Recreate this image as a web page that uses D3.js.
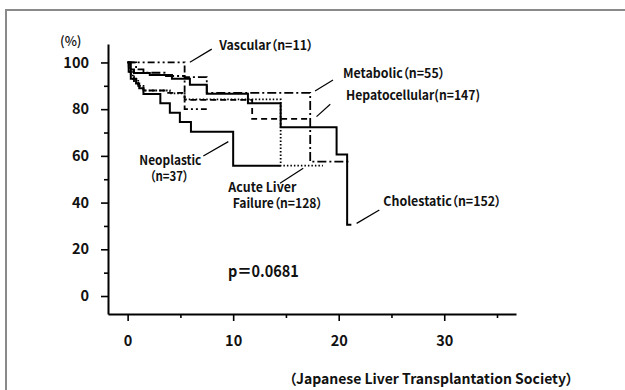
<!DOCTYPE html>
<html>
<head>
<meta charset="utf-8">
<script src="https://cdn.jsdelivr.net/npm/d3@7"></script>
<style>
  html, body { margin: 0; background: #fff; overflow: hidden; }
  svg { display: block; }
  svg text { font-family: "Noto Sans CJK JP", "Noto Sans", sans-serif; font-weight: 700; fill: #111; font-feature-settings: "palt"; }
</style>
</head>
<body>
<div id="chart"></div>
<script>
// survival steps per etiology: [years, % survival], last point = end of follow-up
const cholestatic = [[0, 100], [0.3, 97], [0.6, 95.5], [2.1, 94.6], [4.2, 93], [5.9, 90.4], [7.5, 86.6], [11.4, 82.5], [14.5, 72.3], [19.8, 60.6], [20.8, 30.5], [21.2, 30.5]];
const neoplastic = [[0, 100], [0.1, 96], [0.3, 93], [0.8, 91], [1.1, 89], [1.5, 86.5], [3.1, 82.5], [4.0, 78.5], [4.95, 74.5], [6.0, 70.3], [10.0, 55.8], [14.5, 55.8]];
const acuteLiverFailure = [[0, 100], [0.2, 96], [0.5, 93], [1.0, 90], [1.5, 88], [4.0, 86.8], [5.4, 84.2], [14.5, 55.8], [18.5, 55.8]];
const metabolic = [[0, 100], [0.8, 97], [1.5, 95.6], [3.5, 94.2], [5.4, 93.7], [7.5, 87], [17.3, 57.5], [21.1, 57.5]];
const hepatocellular = [[0, 100], [0.1, 97], [0.3, 94], [0.6, 92], [1.0, 90], [1.5, 88], [3.5, 87], [5.4, 84], [11.8, 75.8], [17.3, 75.8]];
const vascular = [[0, 100], [5.4, 80], [7.5, 80]];

const yTicks = [0, 10, 20, 30, 40, 50, 60, 70, 80, 90, 100];
const xTicks = [0, 5, 10, 15, 20, 25, 30, 35];

const series = [
  { name: 'Vascular', data: vascular, dash: '7,3,2,3,2,3', width: 1.8 },
  { name: 'Metabolic', data: metabolic, dash: '9,3,2,3', width: 1.8 },
  { name: 'Hepatocellular', data: hepatocellular, dash: '6,4', width: 1.8 },
  { name: 'Acute Liver Failure', data: acuteLiverFailure, dash: '1.5,2', width: 1.8 },
  { name: 'Neoplastic', data: neoplastic, dash: null, width: 2 },
  { name: 'Cholestatic', data: cholestatic, dash: null, width: 2 }
];

// label lines (text, start in years, centre in %, width px) and leader lines, in data units
const labels = [
  { lines: [['Vascular（n=11）', 8.68, 107.5, 94]], leader: [[5.9, 100.1], [7.97, 105.7]] },
  { lines: [['Metabolic（n=55）', 20.4, 95.5, 102]], leader: [[17.76, 87.8], [19.46, 92.5]] },
  { lines: [['Hepatocellular(n=147)', 20.7, 85.9, 134]], leader: [[17.9, 76.8], [19.2, 82.1]] },
  { lines: [['Neoplastic', 1.11, 58.1, 62], ['（n=37）', 2.1, 51.2, 39]], leader: [[7.17, 59.96], [9.54, 66.1]] },
  { lines: [['Acute Liver', 9.54, 46.7, 68], ['Failure（n=128）', 9.95, 39.8, 90]], leader: [[14.44, 48.3], [16.64, 54.7]] },
  { lines: [['Cholestatic（n=152）', 24.23, 40.4, 118]], leader: [[21.7, 31.1], [23.85, 36.8]] }
];

const width = 625;
const height = 390;

const x = d3.scaleLinear().domain([-1.86, 36.8]).range([108, 516]);
const y = d3.scaleLinear().domain([-7.7, 107.9]).range([314, 44]);

const svg = d3.select('#chart')
  .append('svg')
  .attr('width', width)
  .attr('height', height);

// grey frame: only its left and top edges fall inside the picture
svg.append('path')
  .attr('d', 'M6,400V10H640')
  .attr('fill', 'none')
  .attr('stroke', '#8a8a8a')
  .attr('stroke-width', 2);

const yAxis = svg.append('g')
  .attr('transform', `translate(${x.range()[0]},0)`)
  .call(d3.axisLeft(y)
    .tickValues(yTicks)
    .tickSizeInner(7)
    .tickSizeOuter(0)
    .tickPadding(12)
    .tickFormat(d => d % 20 === 0 ? d : ''));

const xAxis = svg.append('g')
  .attr('transform', `translate(0,${y.range()[0]})`)
  .call(d3.axisBottom(x)
    .tickValues(xTicks)
    .tickSizeInner(7)
    .tickSizeOuter(0)
    .tickPadding(15)
    .tickFormat(d => d % 10 === 0 ? d : ''));

[yAxis, xAxis].forEach(g => {
  g.select('.domain').attr('stroke', '#000').attr('stroke-width', 2);
  g.selectAll('.tick line').attr('stroke', '#000').attr('stroke-width', 1.6);
  g.selectAll('.tick text').style('font-size', '14.5px').attr('fill', '#111');
});
yAxis.selectAll('.tick line').filter(d => d % 20 !== 0).attr('x2', -4);
xAxis.selectAll('.tick line').filter(d => d % 10 !== 0).attr('y2', 4);

svg.append('text')
  .attr('x', 60).attr('y', 46)
  .style('font-size', '13px')
  .style('font-weight', 500)
  .text('(%)');

const line = d3.line()
  .x(d => x(d[0]))
  .y(d => y(d[1]))
  .curve(d3.curveStepAfter);

svg.append('g')
  .selectAll('path')
  .data(series)
  .enter().append('path')
  .attr('d', d => line(d.data))
  .attr('fill', 'none')
  .attr('stroke', '#000')
  .attr('stroke-width', d => d.width)
  .attr('stroke-dasharray', d => d.dash);

const ann = svg.append('g');
labels.forEach(l => {
  ann.append('line')
    .attr('x1', x(l.leader[0][0])).attr('y1', y(l.leader[0][1]))
    .attr('x2', x(l.leader[1][0])).attr('y2', y(l.leader[1][1]))
    .attr('stroke', '#000')
    .attr('stroke-width', 1.2);
  // one text per label, extra lines as tspans
  const t = ann.append('text').style('font-size', '13px');
  l.lines.forEach(([s, tx, ty, w]) => {
    t.append('tspan')
      .attr('x', x(tx))
      .attr('y', y(ty))
      .attr('dy', '0.36em')
      .attr('textLength', w)
      .attr('lengthAdjust', 'spacingAndGlyphs')
      .text(s);
  });
});

svg.append('text')
  .attr('x', x(9.5)).attr('y', y(10.7))
  .attr('dy', '0.36em')
  .attr('textLength', 71)
  .attr('lengthAdjust', 'spacingAndGlyphs')
  .style('font-size', '16px')
  .text('p＝0.0681');

svg.append('text')
  .attr('x', 289).attr('y', 379)
  .attr('dy', '0.36em')
  .attr('textLength', 284)
  .attr('lengthAdjust', 'spacingAndGlyphs')
  .style('font-size', '14px')
  .text('（Japanese Liver Transplantation Society）');
</script>
</body>
</html>
